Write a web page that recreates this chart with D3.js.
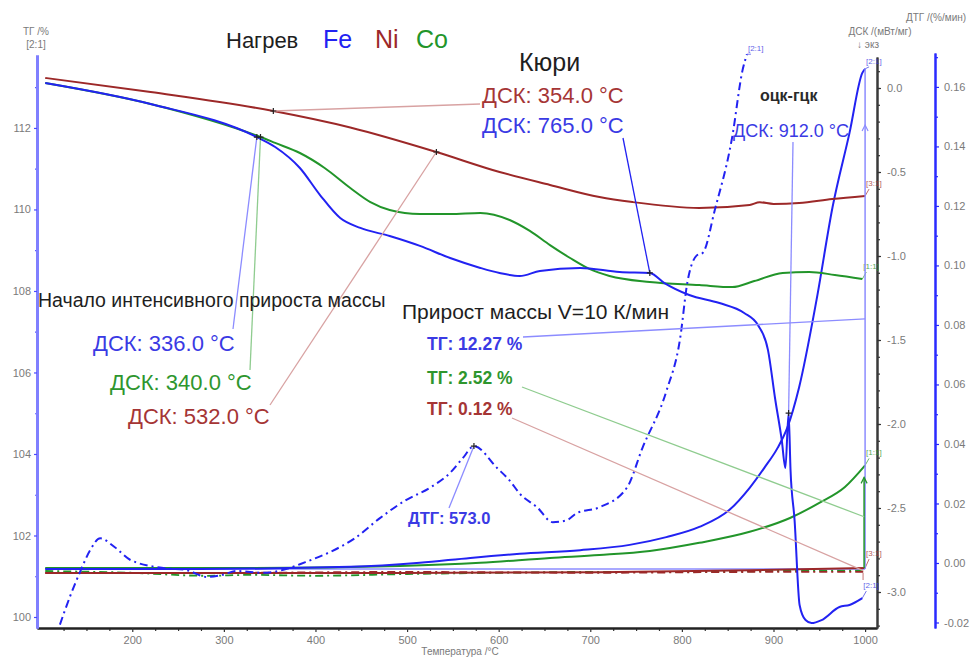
<!DOCTYPE html>
<html>
<head>
<meta charset="utf-8">
<script src="https://cdn.jsdelivr.net/npm/d3@7"></script>
<style>
  body { margin: 0; background: #fff; }
  svg { display: block; font-family: Arial, "Liberation Sans", sans-serif; }
</style>
</head>
<body>
<svg id="chart" width="973" height="659"></svg>
<script>
// ---- Axis ticks ----
const tempTicks = [200, 300, 400, 500, 600, 700, 800, 900, 1000];
const tgTicks = [100, 102, 104, 106, 108, 110, 112];
const dscTicks = [0.0, -0.5, -1.0, -1.5, -2.0, -2.5, -3.0];
const dtgTicks = [0.16, 0.14, 0.12, 0.10, 0.08, 0.06, 0.04, 0.02, 0.00, -0.02];

// ---- DSC, mW/mg ----
const niDscT = [105, 220, 354, 438, 532, 601, 656, 710, 746, 819, 874, 885, 900, 928, 964, 1000];
const niDscV = [0.060, -0.024, -0.137, -0.235, -0.381, -0.500, -0.577, -0.649, -0.679, -0.714, -0.696, -0.680, -0.690, -0.685, -0.661, -0.643];

const feDscT = [105, 220, 336, 356, 383, 405, 427, 449, 481, 514, 547, 580, 601, 623, 645, 689, 732, 765, 781, 808, 841, 868, 883, 894, 902, 909, 913, 916.5, 918.6, 923, 928.5, 935, 941.5, 952.5, 972, 983, 997];
const feDscV = [0.030, -0.095, -0.292, -0.351, -0.476, -0.637, -0.774, -0.833, -0.881, -0.940, -1.012, -1.071, -1.101, -1.119, -1.089, -1.071, -1.095, -1.101, -1.161, -1.232, -1.280, -1.339, -1.411, -1.560, -1.857, -2.095, -2.262, -1.935, -2.274, -2.571, -3.077, -3.167, -3.185, -3.167, -3.089, -3.077, -3.036];

const coDscT = [105, 220, 340, 356, 383, 410, 438, 460, 481, 514, 547, 580, 612, 634, 656, 678, 699, 721, 765, 819, 855, 879, 910, 939, 967, 997];
const coDscV = [0.030, -0.095, -0.292, -0.327, -0.387, -0.476, -0.595, -0.679, -0.726, -0.750, -0.750, -0.744, -0.786, -0.851, -0.935, -1.012, -1.077, -1.119, -1.155, -1.173, -1.185, -1.149, -1.101, -1.095, -1.113, -1.137];

// ---- TG, % ----
const feTgT = [105, 274, 438, 514, 569, 623, 689, 743, 783, 819, 852, 874, 890, 904.5, 915, 928, 947, 964.5, 983, 997, 1000];
const feTgV = [101.18, 101.18, 101.23, 101.33, 101.45, 101.55, 101.64, 101.77, 101.96, 102.21, 102.63, 103.17, 103.66, 104.15, 104.64, 105.64, 107.78, 110.06, 111.88, 113.35, 113.45];

const coTgT = [105, 329, 492, 580, 656, 710, 765, 819, 874, 918, 950, 978, 1000];
const coTgV = [101.20, 101.20, 101.25, 101.33, 101.45, 101.52, 101.62, 101.82, 102.09, 102.43, 102.80, 103.19, 103.72];

const niTgT = [105, 492, 710, 874, 1000];
const niTgV = [101.08, 101.08, 101.10, 101.15, 101.20];

// ---- DTG, %/min ----
const feDtgT = [121, 132, 143, 154, 165, 181, 198, 234, 258, 282, 298, 314, 343, 365, 389, 416, 443, 470, 498, 525, 547, 561, 573, 598, 612, 623, 642, 659, 674, 685, 710, 740, 757, 783, 798, 806, 816, 823, 836, 855, 866, 871];
const feDtgV = [-0.0207, -0.0113, -0.0030, 0.0043, 0.0083, 0.0053, 0.0010, -0.0017, -0.0023, -0.0047, -0.0040, -0.0027, -0.0033, -0.0023, 0.0003, 0.0037, 0.0083, 0.0150, 0.0210, 0.0253, 0.0303, 0.0353, 0.0393, 0.0320, 0.0277, 0.0233, 0.0187, 0.0137, 0.0143, 0.0167, 0.0187, 0.0253, 0.0387, 0.0577, 0.0753, 0.0943, 0.1033, 0.1043, 0.1187, 0.1433, 0.1653, 0.1710];

const coDtgT = [105, 200, 280, 330, 400, 500, 600, 700, 800, 900, 1000];
const coDtgV = [-0.0027, -0.0033, -0.0043, -0.0040, -0.0043, -0.0037, -0.0033, -0.0030, -0.0030, -0.0027, -0.0025];

const niDtgT = [105, 300, 500, 700, 900, 1000];
const niDtgV = [-0.0033, -0.0033, -0.0030, -0.0033, -0.0030, -0.0030];

// ---- Colours ----
const BLUE = "#2222f2", RED = "#9c2828", GREEN = "#22952a";
const BLUE_T = "#3a3ae4", RED_T = "#a53535", GREEN_T = "#2e962e";
const BLUE_L = "#8c8cff", RED_L = "#d8a2a2", GREEN_L = "#8fcc8f";

const svg = d3.select("#chart");

// ---- Scales ----
const x = d3.scaleLinear().domain([96, 1013]).range([37, 877]);
const yTg = d3.scaleLinear().domain([99.73, 113.79]).range([628, 55]);
const yDsc = d3.scaleLinear().domain([-3.2143, 0.1845]).range([628, 57]);
const yDtg = d3.scaleLinear().domain([-0.02185, 0.1714]).range([628, 53]);

function valueAt(ts, vs, t) {
  const i = d3.bisectLeft(ts, t);
  if (i <= 0) return vs[0];
  if (i >= ts.length) return vs[vs.length - 1];
  const f = (t - ts[i - 1]) / (ts[i] - ts[i - 1]);
  return vs[i - 1] + f * (vs[i] - vs[i - 1]);
}
const zip = (ts, vs) => ts.map((t, i) => [t, vs[i]]);

// ---- Axes ----
function styleAxis(g, lineColor, lineWidth, tickColor) {
  g.select(".domain").attr("stroke", lineColor).attr("stroke-width", lineWidth);
  g.selectAll(".tick line").attr("stroke", tickColor).attr("stroke-width", 1.2);
  g.selectAll(".tick text").attr("fill", "#7a7a7a").style("font-size", "11px")
    .style("font-family", "Arial, 'Liberation Sans', sans-serif");
}

// bottom temperature axis
const minorT = d3.range(100, 1001, 25).filter(d => d % 100 !== 0);
svg.append("g").attr("transform", "translate(0,628)")
  .call(d3.axisBottom(x).tickValues(minorT).tickSize(3).tickSizeOuter(0).tickFormat(""))
  .call(g => styleAxis(g, "#222", 2, "#333"));
svg.append("g").attr("transform", "translate(0,628)")
  .call(d3.axisBottom(x).tickValues(tempTicks).tickSize(4).tickSizeOuter(0).tickPadding(4).tickFormat(d3.format("d")))
  .call(g => styleAxis(g, "#222", 2, "#333"));
svg.append("text").attr("x", 460).attr("y", 655).attr("text-anchor", "middle")
  .attr("fill", "#7a7a7a").style("font-size", "10px").text("Температура /°C");

// left TG axis
svg.append("g").attr("transform", "translate(37,0)")
  .call(d3.axisLeft(yTg).tickValues(d3.range(101, 114, 2)).tickSize(2).tickSizeOuter(0).tickFormat(""))
  .call(g => styleAxis(g, "#8080ff", 3, "#5a5aff"));
svg.append("g").attr("transform", "translate(37,0)")
  .call(d3.axisLeft(yTg).tickValues(tgTicks).tickSize(3).tickSizeOuter(0).tickPadding(3).tickFormat(d3.format("d")))
  .call(g => styleAxis(g, "#8080ff", 3, "#4a4aff"));
svg.append("text").attr("x", 36).attr("y", 35).attr("text-anchor", "middle")
  .attr("fill", "#7a7a7a").style("font-size", "10px").text("ТГ /%");
svg.append("text").attr("x", 36).attr("y", 48).attr("text-anchor", "middle")
  .attr("fill", "#7a7a7a").style("font-size", "10px").text("[2:1]");

// DSC axis
svg.append("g").attr("transform", "translate(877,0)")
  .call(d3.axisRight(yDsc).tickValues(d3.range(-32, 2).map(d => d / 10)).tickSize(3).tickSizeOuter(0).tickFormat(""))
  .call(g => styleAxis(g, "#3a3a3a", 2, "#333"));
svg.append("g").attr("transform", "translate(877,0)")
  .call(d3.axisRight(yDsc).tickValues(dscTicks).tickSize(4).tickSizeOuter(0).tickPadding(6).tickFormat(d => d.toFixed(1)))
  .call(g => styleAxis(g, "#3a3a3a", 2, "#333"));
svg.append("text").attr("x", 880).attr("y", 35).attr("text-anchor", "middle")
  .attr("fill", "#7a7a7a").style("font-size", "10px").text("ДСК /(мВт/мг)");
svg.append("text").attr("x", 868).attr("y", 48).attr("text-anchor", "middle")
  .attr("fill", "#7a7a7a").style("font-size", "10px").text("↓ экз");

// DTG axis
svg.append("g").attr("transform", "translate(935,0)")
  .call(d3.axisRight(yDtg).tickValues(d3.range(-1, 18, 2).map(d => d / 100)).tickSize(3).tickSizeOuter(0).tickFormat(""))
  .call(g => styleAxis(g, "#2a2aff", 2, "#2a2aff"));
svg.append("g").attr("transform", "translate(935,0)")
  .call(d3.axisRight(yDtg).tickValues(dtgTicks).tickSize(4).tickSizeOuter(0).tickPadding(5).tickFormat(d => d.toFixed(2)))
  .call(g => styleAxis(g, "#2a2aff", 2, "#2a2aff"));
svg.append("text").attr("x", 936).attr("y", 21).attr("text-anchor", "middle")
  .attr("fill", "#7a7a7a").style("font-size", "10px").text("ДТГ /(%/мин)");

// ---- Curves ----
const lineTg = d3.line().x(d => x(d[0])).y(d => yTg(d[1])).curve(d3.curveMonotoneX);
const lineDsc = d3.line().x(d => x(d[0])).y(d => yDsc(d[1])).curve(d3.curveMonotoneX);
const lineDtg = d3.line().x(d => x(d[0])).y(d => yDtg(d[1])).curve(d3.curveMonotoneX);

const plot = svg.append("g");

// thin DTG traces of Ni and Co near zero
plot.append("path").attr("d", lineDtg(zip(coDtgT, coDtgV))).attr("fill", "none")
  .attr("stroke", GREEN).attr("stroke-width", 1.8).attr("stroke-dasharray", "8,4,2,4");
plot.append("path").attr("d", lineDtg(zip(niDtgT, niDtgV))).attr("fill", "none")
  .attr("stroke", RED).attr("stroke-width", 1.8).attr("stroke-dasharray", "8,4,2,4");

// baseline of the Fe mass-gain step
plot.append("line").attr("x1", x(feTgT[0])).attr("x2", x(1000))
  .attr("y1", yTg(feTgV[0])).attr("y2", yTg(feTgV[0]))
  .attr("stroke", BLUE_L).attr("stroke-width", 1.5);

// TG curves
[[niTgT, niTgV, RED], [coTgT, coTgV, GREEN], [feTgT, feTgV, BLUE]].forEach(([t, v, c]) => {
  plot.append("path").attr("d", lineTg(zip(t, v))).attr("fill", "none")
    .attr("stroke", c).attr("stroke-width", 2);
});

// DSC curves
[[niDscT, niDscV, RED], [coDscT, coDscV, GREEN], [feDscT, feDscV, BLUE]].forEach(([t, v, c]) => {
  plot.append("path").attr("d", lineDsc(zip(t, v))).attr("fill", "none")
    .attr("stroke", c).attr("stroke-width", 2);
});

// Fe DTG, dash-dot
plot.append("path").attr("d", lineDtg(zip(feDtgT, feDtgV))).attr("fill", "none")
  .attr("stroke", BLUE).attr("stroke-width", 2).attr("stroke-dasharray", "8,4,2,4");

// ---- Curve end tags ----
function endTag(px, py, label, color, dy) {
  plot.append("line").attr("x1", px).attr("y1", py).attr("x2", px + 4).attr("y2", py - dy + 3)
    .attr("stroke", color).attr("stroke-width", 1).attr("opacity", 0.7);
  plot.append("text").attr("x", px + 1).attr("y", py - dy).attr("fill", color)
    .attr("opacity", 0.8).style("font-size", "8px").text(label);
}
const last = a => a[a.length - 1];
endTag(x(last(feTgT)), yTg(last(feTgV)), "[2:1]", BLUE_T, 5);
endTag(x(last(niDscT)), yDsc(last(niDscV)), "[3:1]", RED_T, 10);
endTag(x(last(coDscT)), yDsc(last(coDscV)), "[1:1]", GREEN_T, 10);
endTag(x(last(coTgT)), yTg(last(coTgV)), "[1:1]", GREEN_T, 10);
endTag(x(last(niTgT)), yTg(last(niTgV)), "[3:1]", RED_T, 12);
endTag(x(last(feDscT)), yDsc(last(feDscV)), "[2:1]", BLUE_T, 10);
endTag(x(last(feDtgT)), yDtg(last(feDtgV)), "[2:1]", BLUE_T, 3);

// ---- Mass-gain steps at 1000 °C ----
const steps = [
  { t: feTgT, v: feTgV, color: BLUE_L, lead: [523, 337], arrowAt: yTg(112.07) },
  { t: coTgT, v: coTgV, color: GREEN, lead: [522, 387], arrowAt: null },
  { t: niTgT, v: niTgV, color: RED_L, lead: [512, 418], arrowAt: null }
];
steps.forEach((s, i) => {
  const sx = x(1000) - i;
  const y0 = yTg(s.v[0]), y1 = yTg(last(s.v));
  const top = s.arrowAt !== null ? s.arrowAt : y1 + 12;
  plot.append("line").attr("x1", sx).attr("x2", sx).attr("y1", y0).attr("y2", i === 0 ? y1 : top)
    .attr("stroke", s.color).attr("stroke-width", 1.5);
  if (i < 2) {
    plot.append("path").attr("d", `M${sx - 3},${top + 6} L${sx},${top} L${sx + 3},${top + 6}`)
      .attr("fill", "none").attr("stroke", i === 0 ? BLUE_L : GREEN).attr("stroke-width", 1.2);
  }
  const mid = (y0 + y1) / 2;
  plot.append("line").attr("x1", s.lead[0]).attr("y1", s.lead[1]).attr("x2", sx).attr("y2", mid)
    .attr("stroke", i === 0 ? BLUE_L : i === 1 ? GREEN_L : RED_L).attr("stroke-width", 1.3);
});

// ---- Peak / onset markers with leader lines ----
const marks = [
  { T: 354, ts: niDscT, vs: niDscV, y: yDsc, lead: [480, 104], color: RED_L },
  { T: 532, ts: niDscT, vs: niDscV, y: yDsc, lead: [270, 405], color: RED_L },
  { T: 336, ts: feDscT, vs: feDscV, y: yDsc, lead: [233, 329], color: BLUE_L },
  { T: 340, ts: coDscT, vs: coDscV, y: yDsc, lead: [250, 370], color: GREEN_L },
  { T: 765, ts: feDscT, vs: feDscV, y: yDsc, lead: [623, 138], color: BLUE },
  { T: 916.5, ts: feDscT, vs: feDscV, y: yDsc, lead: [793, 142], color: BLUE_L },
  { T: 573, ts: feDtgT, vs: feDtgV, y: yDtg, lead: [449, 508], color: BLUE_L }
];
marks.forEach(m => {
  const px = x(m.T), py = m.y(valueAt(m.ts, m.vs, m.T));
  plot.append("line").attr("x1", m.lead[0]).attr("y1", m.lead[1]).attr("x2", px).attr("y2", py)
    .attr("stroke", m.color).attr("stroke-width", 1.3);
  plot.append("path").attr("d", `M${px - 3},${py} H${px + 3} M${px},${py - 3} V${py + 3}`)
    .attr("stroke", "#222").attr("stroke-width", 1.2);
});

// ---- Text annotations ----
const texts = [
  ["Нагрев", 226, 48, 22, "#1e1e1e", "normal"],
  ["Fe", 323, 48, 25, BLUE, "normal"],
  ["Ni", 375, 48, 25, RED, "normal"],
  ["Co", 416, 48, 25, GREEN, "normal"],
  ["Кюри", 519, 71, 25, "#1e1e1e", "normal"],
  ["ДСК: 354.0 °C", 482, 103, 22, RED_T, "normal"],
  ["ДСК: 765.0 °C", 482, 133, 22, BLUE_T, "normal"],
  ["оцк-гцк", 760, 101, 16, "#2a2a2a", "bold"],
  ["ДСК: 912.0 °C", 733, 137, 18, BLUE_T, "normal"],
  ["Начало интенсивного прироста массы", 38, 307, 19.5, "#1e1e1e", "normal"],
  ["ДСК: 336.0 °C", 93, 351, 22, BLUE_T, "normal"],
  ["ДСК: 340.0 °C", 110, 390, 22, GREEN_T, "normal"],
  ["ДСК: 532.0 °C", 128, 424, 22, RED_T, "normal"],
  ["Прирост массы V=10 К/мин", 402, 319, 21, "#1e1e1e", "normal"],
  ["ТГ: 12.27 %", 427, 350, 17.5, BLUE_T, "bold"],
  ["ТГ: 2.52 %", 427, 384, 17.5, GREEN_T, "bold"],
  ["ТГ: 0.12 %", 427, 415, 17.5, RED_T, "bold"],
  ["ДТГ: 573.0", 408, 524, 16.5, BLUE_T, "bold"]
];
texts.forEach(([s, tx, ty, fs, c, w]) => {
  svg.append("text").attr("x", tx).attr("y", ty).attr("fill", c)
    .style("font-size", fs + "px").style("font-weight", w).text(s);
});
</script>
</body>
</html>
